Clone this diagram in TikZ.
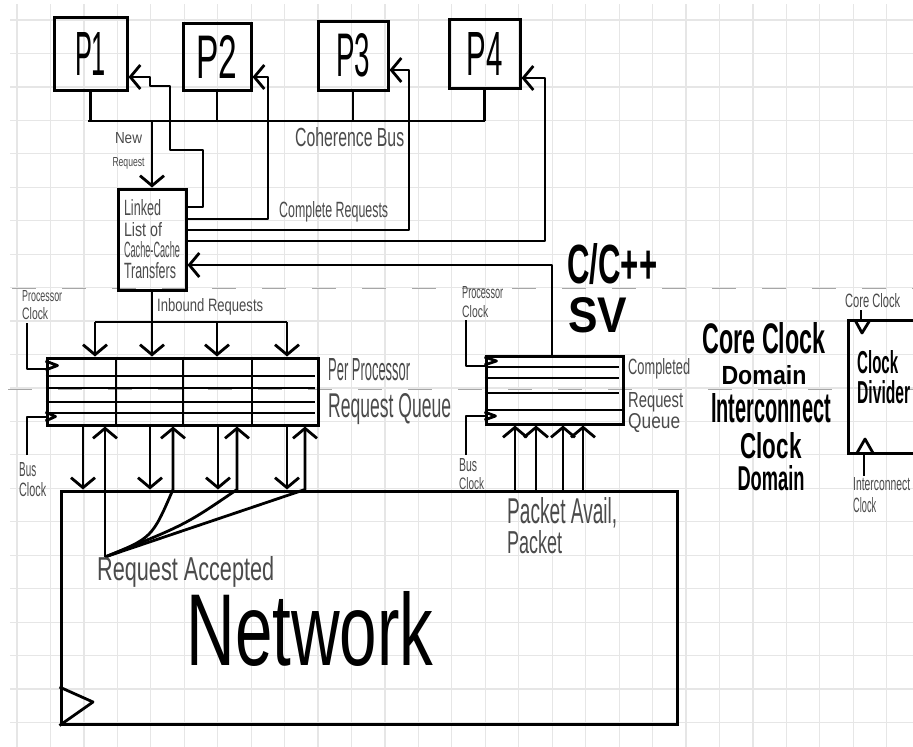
\documentclass[tikz,border=0pt]{standalone}
\usepackage{fontspec}
\setmainfont{Liberation Sans}
\usepackage{graphicx}
\usepackage{xcolor}
\usepackage{tikz}
\usetikzlibrary{arrows.meta}
\definecolor{gridgray}{RGB}{230,230,230}
\definecolor{pencil}{RGB}{75,75,75}
\newcommand{\hw}[3]{\resizebox{#1pt}{#2pt}{#3}}

\begin{document}
\begin{tikzpicture}[x=1pt, y=-1pt,
  wire/.style={line width=2.8pt, line join=round},
  arr/.style={wire, -{Straight Barb[length=10pt, width=24pt]}},
  blk/.style={draw, line width=3pt, inner sep=0pt},
  ink/.style={inner sep=0pt, font=\bfseries},
  note/.style={inner sep=0pt, text=pencil, align=left},
  boundary/.style={black!35, line width=1pt, dash pattern=on 24pt off 26pt}]
\useasboundingbox (0,0) rectangle (913,747);
\clip (0,0) rectangle (913,747);
\fill[white] (0,0) rectangle (913,747);
\draw[gridgray, line width=1.2pt, xstep=33.45pt, ystep=33.45pt, shift={(17,20)}] (-7,-16) grid (896,727);
\draw[boundary] (12,288) -- (913,288);
\draw[boundary] (8,389) -- (913,389);

\node[blk, minimum width=73pt, minimum height=73pt] (p1) at (90.5,53.5) {\hw{31}{43}{P1}};
\node[blk, minimum width=68pt, minimum height=67pt] (p2) at (217,56.5) {\hw{41}{43}{P2}};
\node[blk, minimum width=70pt, minimum height=69pt] (p3) at (353,55.5) {\hw{34}{43}{P3}};
\node[blk, minimum width=71pt, minimum height=69pt] (p4) at (484.5,53.5) {\hw{36}{43}{P4}};

\coordinate (busL) at (88,121);
\draw[wire] (busL) -- (p4.south |- busL);
\foreach \p in {p1,p2,p3,p4} \draw[wire] (\p.south) -- (\p.south |- busL);
\node[note, anchor=north west] (cohbus) at (295,127) {\hw{109}{19}{Coherence Bus}};

\node[blk, minimum width=68pt, minimum height=101pt, text=pencil, align=left, font=\fontsize{10}{21}\selectfont] (ll) at (152,239.5) {\hw{37}{16}{Linked}\\\hw{38}{14}{List of}\\\hw{56}{16}{Cache-Cache}\\\hw{52}{16}{Transfers}};
\draw[arr] (ll.north |- busL) -- (ll.north);
\node[note, anchor=north, align=center, font=\fontsize{10}{23}\selectfont] (newreq) at (128.5,132) {\hw{27}{11}{New}\\\hw{32}{9}{Request}};

\draw[arr] (ll.east |- 0,207) -| (203,150) -| (170,86) -| (150,77) -- (p1.east |- 0,77);
\draw[arr] (ll.east |- 0,219) -| (268,77) -- (p2.east |- 0,77);
\draw[arr] (ll.east |- 0,230) -| (409,70) -- (p3.east |- 0,70);
\draw[arr] (ll.east |- 0,241) -| (545,78) -- (p4.east |- 0,78);
\node[note, anchor=north west] (complreq) at (279,201) {\hw{109}{16}{Complete Requests}};

\node[blk, minimum width=271pt, minimum height=67pt] (ppq) at (182.5,391.5) {};
\foreach \y in {376,388,402,413} \draw[wire] (ppq.west |- 0,\y) -- (315,\y);
\foreach \x in {116,183,252} \draw[wire] (ppq.north -| \x,0) -- (ppq.south -| \x,0);
\draw[wire] (ppq.west |- 0,361) -- ++(12,4.5) -- ++(-12,4.5);
\draw[wire] (ppq.west |- 0,412) -- ++(10,4.5) -- ++(-10,4.5);
\coordinate (pclkA) at (27,323);
\coordinate (bclkA) at (27,455);
\draw[wire] (pclkA) |- (ppq.west |- 0,369);
\draw[wire] (bclkA) |- (ppq.west |- 0,417);
\node[note, anchor=north west, font=\fontsize{10}{18}\selectfont] (pclk1) at (22,290) {\hw{40}{11}{Processor}\\\hw{26}{12}{Clock}};
\node[note, anchor=north west, font=\fontsize{10}{20}\selectfont] (bclk1) at (19,462) {\hw{17}{14}{Bus}\\\hw{27}{14}{Clock}};
\node[note, anchor=north west, font=\fontsize{10}{37}\selectfont] (ppqlabel) at (328,358) {\hw{82}{22}{Per Processor}\\\hw{123}{24}{Request Queue}};

\coordinate (inL) at (95,322);
\coordinate (inR) at (287,322);
\draw[wire] (ll.south) -- (ll.south |- inL);
\draw[wire] (inL) -- (inR);
\foreach \x in {95,152,217,287} \draw[arr] (inL -| \x,0) -- (ppq.north -| \x,0);
\node[note, anchor=north west] (inbound) at (157,298) {\hw{106}{13}{Inbound Requests}};

\node[blk, minimum width=616pt, minimum height=233pt] (net) at (369,607.5) {};
\draw[wire] (net.west |- 0,687) -- (93,702) -- (net.south west);
\node[inner sep=0pt] (netlabel) at (310,629) {\hw{247}{74}{Network}};
\foreach \x in {83,150,218,287} \draw[arr] (ppq.south -| \x,0) -- (net.north -| \x,0);
\coordinate (acc) at (105,557);
\draw[arr] (acc) -- (ppq.south -| acc);
\draw[arr] (acc) .. controls (152,538) .. (net.north -| 173,0) -- (ppq.south -| 173,0);
\draw[arr] (acc) .. controls (185,525) .. (net.north -| 237,0) -- (ppq.south -| 237,0);
\draw[arr] (acc) -- (net.north -| 305,0) -- (ppq.south -| 305,0);
\node[note, anchor=north west] (reqacc) at (97,556) {\hw{177}{24}{Request Accepted}};

\node[blk, minimum width=137pt, minimum height=68pt] (cq) at (554.5,390) {};
\foreach \y in {367,378,393} \draw[wire] (cq.west |- 0,\y) -- (619,\y);
\draw[wire] (cq.west |- 0,410) -- (cq.east |- 0,410);
\draw[wire] (cq.west |- 0,357) -- ++(12,4) -- ++(-12,4);
\draw[wire] (cq.west |- 0,412) -- ++(11,4) -- ++(-11,4);
\coordinate (pclkB) at (466,320);
\coordinate (bclkB) at (466,455);
\draw[wire] (pclkB) |- (cq.west |- 0,366);
\draw[wire] (bclkB) |- (cq.west |- 0,416);
\node[note, anchor=north west, font=\fontsize{10}{19}\selectfont] (pclk2) at (462,286) {\hw{41}{12}{Processor}\\\hw{26}{12}{Clock}};
\node[note, anchor=north west, font=\fontsize{10}{18}\selectfont] (bclk2) at (459,458) {\hw{18}{13}{Bus}\\\hw{25}{12}{Clock}};
\node[note, anchor=north west, font=\fontsize{10}{21}\selectfont] (cqlabel) at (628,358) {\hw{62}{16}{Completed}\\[12pt]\hw{55}{15}{Request}\\\hw{52}{15}{Queue}};
\draw[arr] (cq.north -| 552,0) |- (ll.east |- 0,265);
\foreach \x in {515,536,563,583} \draw[arr] (net.north -| \x,0) -- (cq.south -| \x,0);
\node[note, anchor=north west, font=\fontsize{10}{30}\selectfont] (pktlabel) at (507,497) {\hw{110}{26}{Packet Avail,}\\\hw{55}{23}{Packet}};

\node[ink, anchor=north west] (cpp) at (567,243) {\hw{90}{40}{C/C++}};
\node[ink, anchor=north west] (sv) at (568,297) {\hw{59}{35}{SV}};
\node[ink, anchor=north, align=center, font=\bfseries\fontsize{10}{31}\selectfont] (coredom) at (764,322) {\hw{123}{31}{Core Clock}\\\hw{85}{19}{Domain}};
\node[ink, anchor=north, align=center, font=\bfseries\fontsize{10}{32}\selectfont] (icdom) at (771,393) {\hw{120}{29}{Interconnect}\\[4pt]\hw{61}{26}{Clock}\\\hw{67}{25}{Domain}};

\node[blk, minimum width=90pt, minimum height=133pt] (cd) at (893,386.5) {};
\node[ink, anchor=north west, align=left, font=\bfseries\fontsize{10}{30}\selectfont] (cdlabel) at (857,350) {\hw{41}{23}{Clock}\\\hw{53}{23}{Divider}};
\draw[wire] (855,320) -- (862,333) -- (870,320);
\draw[wire] (857,453) -- (865,439) -- (873,453);
\coordinate (coreclk) at (861,310);
\coordinate (icclk) at (864,476);
\draw[wire] (coreclk) -- (cd.north -| coreclk);
\draw[wire] (icclk) -- (cd.south -| icclk);
\node[note, anchor=north west] (coreclklabel) at (845,293) {\hw{55}{14}{Core Clock}};
\node[note, anchor=north west, font=\fontsize{10}{22}\selectfont] (icclklabel) at (853,477) {\hw{57}{13}{Interconnect}\\\hw{23}{15}{Clock}};
\end{tikzpicture}
\end{document}
